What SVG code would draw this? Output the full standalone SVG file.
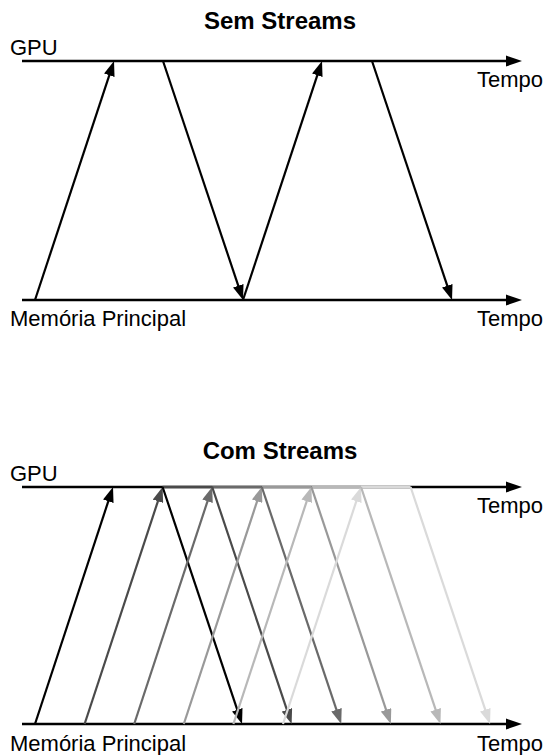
<svg xmlns="http://www.w3.org/2000/svg" width="551" height="755" viewBox="0 0 551 755">
  <style>
    text { font-family: "Liberation Sans", Arial, sans-serif; fill: #000; }
    .lbl { font-size: 22px; }
    .title { font-size: 24px; font-weight: bold; text-anchor: middle; }
    .axis { stroke: #000; stroke-width: 2.5; fill: none; }
    .arr { stroke-width: 2.2; fill: none; }
    .seg { stroke-width: 2.5; fill: none; }
  </style>
  <defs>
    <marker id="axhead" markerUnits="userSpaceOnUse" markerWidth="16" markerHeight="12" viewBox="0 0 16 12" refX="0" refY="6" orient="auto">
      <path d="M0,0.5 L16,6 L0,11.5 z" fill="#000"/>
    </marker>
    <marker id="h0" markerUnits="userSpaceOnUse" markerWidth="15" markerHeight="11" viewBox="0 0 15 11" refX="7" refY="5.5" orient="auto"><path d="M0,0 L15,5.5 L0,11 z" fill="#000"/></marker>
    <marker id="h1" markerUnits="userSpaceOnUse" markerWidth="15" markerHeight="11" viewBox="0 0 15 11" refX="7" refY="5.5" orient="auto"><path d="M0,0 L15,5.5 L0,11 z" fill="#4a4a4a"/></marker>
    <marker id="h2" markerUnits="userSpaceOnUse" markerWidth="15" markerHeight="11" viewBox="0 0 15 11" refX="7" refY="5.5" orient="auto"><path d="M0,0 L15,5.5 L0,11 z" fill="#6a6a6a"/></marker>
    <marker id="h3" markerUnits="userSpaceOnUse" markerWidth="15" markerHeight="11" viewBox="0 0 15 11" refX="7" refY="5.5" orient="auto"><path d="M0,0 L15,5.5 L0,11 z" fill="#999999"/></marker>
    <marker id="h4" markerUnits="userSpaceOnUse" markerWidth="15" markerHeight="11" viewBox="0 0 15 11" refX="7" refY="5.5" orient="auto"><path d="M0,0 L15,5.5 L0,11 z" fill="#b8b8b8"/></marker>
    <marker id="h5" markerUnits="userSpaceOnUse" markerWidth="15" markerHeight="11" viewBox="0 0 15 11" refX="7" refY="5.5" orient="auto"><path d="M0,0 L15,5.5 L0,11 z" fill="#dadada"/></marker>
  </defs>

  <!-- Upper panel: without streams -->
  <g id="title-sem">
    <text class="title" x="280" y="29">Sem Streams</text>
  </g>
  <g id="gpu-top">
    <line class="axis" x1="22" y1="61" x2="506" y2="61" marker-end="url(#axhead)"/>
    <text class="lbl" x="10" y="55">GPU</text>
    <text class="lbl" x="477" y="87">Tempo</text>
  </g>
  <g id="mem-top">
    <line class="axis" x1="22" y1="300" x2="506" y2="300" marker-end="url(#axhead)"/>
    <text class="lbl" x="10" y="326">Memória Principal</text>
    <text class="lbl" x="477" y="326">Tempo</text>
  </g>
  <g id="transfers-top">
    <line class="arr" stroke="#000" x1="35" y1="300" x2="111.5" y2="68.6" marker-end="url(#h0)"/>
    <line class="arr" stroke="#000" x1="163" y1="61" x2="240.5" y2="292.4" marker-end="url(#h0)"/>
    <line class="arr" stroke="#000" x1="243" y1="300" x2="319.5" y2="68.6" marker-end="url(#h0)"/>
    <line class="arr" stroke="#000" x1="372" y1="61" x2="449.5" y2="292.4" marker-end="url(#h0)"/>
  </g>

  <!-- Lower panel: with streams -->
  <g id="title-com">
    <text class="title" x="280" y="459">Com Streams</text>
  </g>
  <g id="gpu-bottom">
    <line class="axis" x1="22" y1="487" x2="506" y2="487" marker-end="url(#axhead)"/>
    <text class="lbl" x="10" y="481">GPU</text>
    <text class="lbl" x="477" y="513">Tempo</text>
  </g>
  <g id="mem-bottom">
    <line class="axis" x1="22" y1="724" x2="506" y2="724" marker-end="url(#axhead)"/>
    <text class="lbl" x="10" y="751">Memória Principal</text>
    <text class="lbl" x="477" y="751">Tempo</text>
  </g>
  <g id="kernels-bottom">
    <line class="seg" stroke="#4a4a4a" x1="162.6" y1="487" x2="212.2" y2="487"/>
    <line class="seg" stroke="#6a6a6a" x1="212.2" y1="487" x2="261.8" y2="487"/>
    <line class="seg" stroke="#999999" x1="261.8" y1="487" x2="311.4" y2="487"/>
    <line class="seg" stroke="#b8b8b8" x1="311.4" y1="487" x2="361" y2="487"/>
    <line class="seg" stroke="#dadada" x1="361" y1="487" x2="410.6" y2="487"/>
  </g>
  <g id="transfers-bottom">
    <line class="arr" stroke="#000" x1="35" y1="724" x2="110.5" y2="494.6" marker-end="url(#h0)"/>
    <line class="arr" stroke="#4a4a4a" x1="84.6" y1="724" x2="160.1" y2="494.6" marker-end="url(#h1)"/>
    <line class="arr" stroke="#000" x1="162.6" y1="487" x2="239.5" y2="716.4" marker-end="url(#h0)"/>
    <line class="arr" stroke="#6a6a6a" x1="134.2" y1="724" x2="209.7" y2="494.6" marker-end="url(#h2)"/>
    <line class="arr" stroke="#4a4a4a" x1="212.2" y1="487" x2="289.1" y2="716.4" marker-end="url(#h1)"/>
    <line class="arr" stroke="#999999" x1="183.8" y1="724" x2="259.3" y2="494.6" marker-end="url(#h3)"/>
    <line class="arr" stroke="#6a6a6a" x1="261.8" y1="487" x2="338.7" y2="716.4" marker-end="url(#h2)"/>
    <line class="arr" stroke="#b8b8b8" x1="233.4" y1="724" x2="308.9" y2="494.6" marker-end="url(#h4)"/>
    <line class="arr" stroke="#999999" x1="311.4" y1="487" x2="388.3" y2="716.4" marker-end="url(#h3)"/>
    <line class="arr" stroke="#dadada" x1="283" y1="724" x2="358.5" y2="494.6" marker-end="url(#h5)"/>
    <line class="arr" stroke="#b8b8b8" x1="361" y1="487" x2="437.9" y2="716.4" marker-end="url(#h4)"/>
    <line class="arr" stroke="#dadada" x1="410.6" y1="487" x2="487.5" y2="716.4" marker-end="url(#h5)"/>
  </g>
</svg>
